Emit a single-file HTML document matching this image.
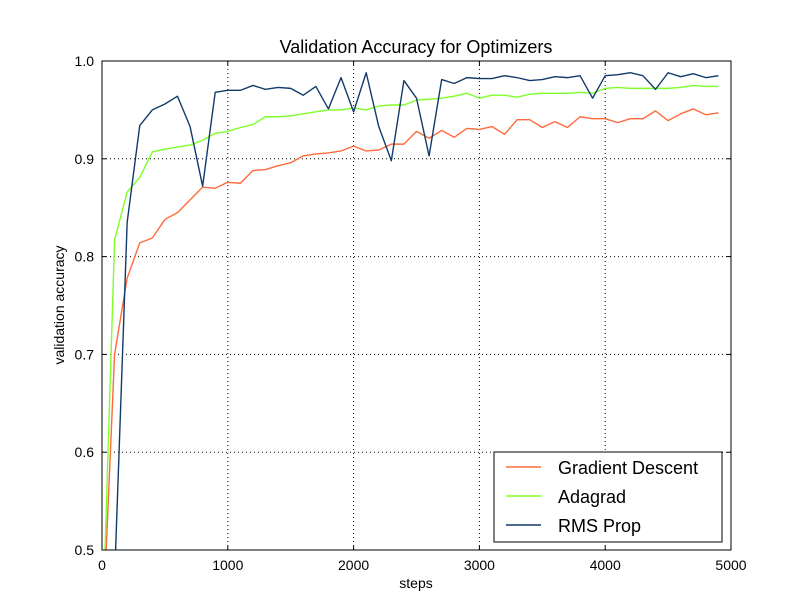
<!DOCTYPE html>
<html><head><meta charset="utf-8"><style>
html,body{margin:0;padding:0;background:#fff;width:812px;height:612px;overflow:hidden;}
svg{display:block;font-family:"Liberation Sans",sans-serif;}
</style></head><body>
<svg id="chart" width="812" height="612" viewBox="0 0 812 612" xmlns="http://www.w3.org/2000/svg">
<rect width="812" height="612" fill="#fff"/>
<text x="416" y="53" font-size="18" text-anchor="middle">Validation Accuracy for Optimizers</text>
<text x="416" y="588" font-size="14" text-anchor="middle">steps</text>
<text transform="translate(64,305) rotate(-90)" font-size="14" text-anchor="middle">validation accuracy</text>
<defs><clipPath id="pc"><rect x="102" y="61" width="629" height="489"/></clipPath></defs>
<g id="grid"></g>
<g id="series" clip-path="url(#pc)"></g>
<rect x="102" y="61" width="629" height="489" fill="none" stroke="#000" stroke-width="1"/>
<g id="ticks"></g>
<g id="legend"></g>
</svg>
<script>
const steps = [0,100,200,300,400,500,600,700,800,900,1000,1100,1200,1300,1400,1500,1600,1700,1800,1900,2000,2100,2200,2300,2400,2500,2600,2700,2800,2900,3000,3100,3200,3300,3400,3500,3600,3700,3800,3900,4000,4100,4200,4300,4400,4500,4600,4700,4800,4900];
const gdValues = [0.40,0.70,0.778,0.814,0.819,0.838,0.845,0.858,0.871,0.870,0.876,0.875,0.888,0.889,0.893,0.896,0.903,0.905,0.906,0.908,0.913,0.908,0.909,0.915,0.915,0.928,0.921,0.929,0.922,0.931,0.930,0.933,0.925,0.940,0.940,0.932,0.938,0.932,0.943,0.941,0.941,0.937,0.941,0.941,0.949,0.939,0.946,0.951,0.945,0.947];
const adagradValues = [0.40,0.817,0.866,0.881,0.907,0.910,0.912,0.914,0.919,0.926,0.928,0.932,0.935,0.943,0.943,0.944,0.946,0.948,0.950,0.950,0.952,0.950,0.954,0.955,0.955,0.960,0.961,0.962,0.964,0.967,0.962,0.965,0.965,0.963,0.966,0.967,0.967,0.967,0.968,0.967,0.972,0.973,0.972,0.972,0.972,0.972,0.973,0.975,0.974,0.974];
const rmsValues = [0.30,0.47,0.835,0.934,0.950,0.956,0.964,0.933,0.872,0.968,0.970,0.970,0.975,0.971,0.973,0.972,0.965,0.974,0.951,0.983,0.948,0.988,0.933,0.898,0.980,0.962,0.903,0.981,0.977,0.983,0.982,0.982,0.985,0.983,0.980,0.981,0.984,0.983,0.985,0.962,0.985,0.986,0.988,0.985,0.971,0.988,0.984,0.987,0.983,0.985];
const xTicks = [0,1000,2000,3000,4000,5000];
const yTicks = [0.5,0.6,0.7,0.8,0.9,1.0];
const yTickLabels = ["0.5","0.6","0.7","0.8","0.9","1.0"];
const seriesNames = ["Gradient Descent","Adagrad","RMS Prop"];
const seriesColors = ["#ff6a3d","#7fff2a","#123a6b"];

const NS="http://www.w3.org/2000/svg";
const X0=102,X1=731,Y0=550,Y1=61;
const YMIN=0.5,YMAX=1.0;
function xs(v){return X0+(v-0)/(5000-0)*(X1-X0);}
function ys(v){return Y0-(v-YMIN)/(YMAX-YMIN)*(Y0-Y1);}
function mk(tag,attrs,parent){const e=document.createElementNS(NS,tag);for(const k in attrs)e.setAttribute(k,attrs[k]);parent.appendChild(e);return e;}
const grid=document.getElementById('grid'),ticks=document.getElementById('ticks'),series=document.getElementById('series'),legend=document.getElementById('legend');
xTicks.forEach((t,i)=>{
  const x=xs(t);
  if(i>0&&i<xTicks.length-1){const g=mk('line',{x1:x,x2:x,y1:Y1,y2:Y0,stroke:'#000','stroke-dasharray':'1,3','stroke-width':1},grid);
  
  }
  mk('line',{x1:x,x2:x,y1:Y0,y2:Y0-4,stroke:'#000'},ticks);
  mk('line',{x1:x,x2:x,y1:Y1,y2:Y1+4,stroke:'#000'},ticks);
  const tx=mk('text',{x:x,y:Y0+20,'font-size':14,'text-anchor':'middle'},ticks);
  tx.textContent=String(t);
  
  
});
yTicks.forEach((t,i)=>{
  const y=ys(t);
  if(i>0&&i<yTicks.length-1){const g=mk('line',{x1:X0,x2:X1,y1:y,y2:y,stroke:'#000','stroke-dasharray':'1,3','stroke-width':1},grid);
  
  }
  mk('line',{x1:X0,x2:X0+4,y1:y,y2:y,stroke:'#000'},ticks);
  mk('line',{x1:X1,x2:X1-4,y1:y,y2:y,stroke:'#000'},ticks);
  const tx=mk('text',{x:X0-8,y:y+5,'font-size':14,'text-anchor':'end'},ticks);
  tx.textContent=yTickLabels[i];
  
  
});
// clip segments at the y-axis minimum so nothing extends outside the plot
function clippedPoints(vals){
  const out=[];
  for(let i=0;i<vals.length;i++){
    const v=vals[i];
    if(v>=YMIN){
      if(i>0&&vals[i-1]<YMIN){
        const t=(YMIN-vals[i-1])/(v-vals[i-1]);
        const s=steps[i-1]+t*(steps[i]-steps[i-1]);
        out.push([xs(s),ys(YMIN)]);
      }
      out.push([xs(steps[i]),ys(v)]);
    } else if(i>0&&vals[i-1]>=YMIN){
      const t=(vals[i-1]-YMIN)/(vals[i-1]-v);
      const s=steps[i-1]+t*(steps[i]-steps[i-1]);
      out.push([xs(s),ys(YMIN)]);
    }
  }
  return out;
}
const allVals=[gdValues,adagradValues,rmsValues];
const lineNames=['gradient-descent-line','adagrad-line','rms-prop-line'];
allVals.forEach((vals,si)=>{
  const pts=clippedPoints(vals).map(p=>p[0].toFixed(2)+','+p[1].toFixed(2)).join(' ');
  const p=mk('polyline',{points:pts,fill:'none',stroke:seriesColors[si],'stroke-width':1.4,'stroke-linejoin':'round'},series);
  
  
});
const lb=mk('rect',{x:494,y:452,width:228,height:90,fill:'#fff',stroke:'#000'},legend);


seriesNames.forEach((n,i)=>{
  const y=467+i*29;
  mk('line',{x1:506,x2:541,y1:y,y2:y,stroke:seriesColors[i],'stroke-width':1.4},legend);
  const t=mk('text',{x:558,y:y+7,'font-size':18},legend);
  t.textContent=n;
  
  
});
</script>
</body></html>
